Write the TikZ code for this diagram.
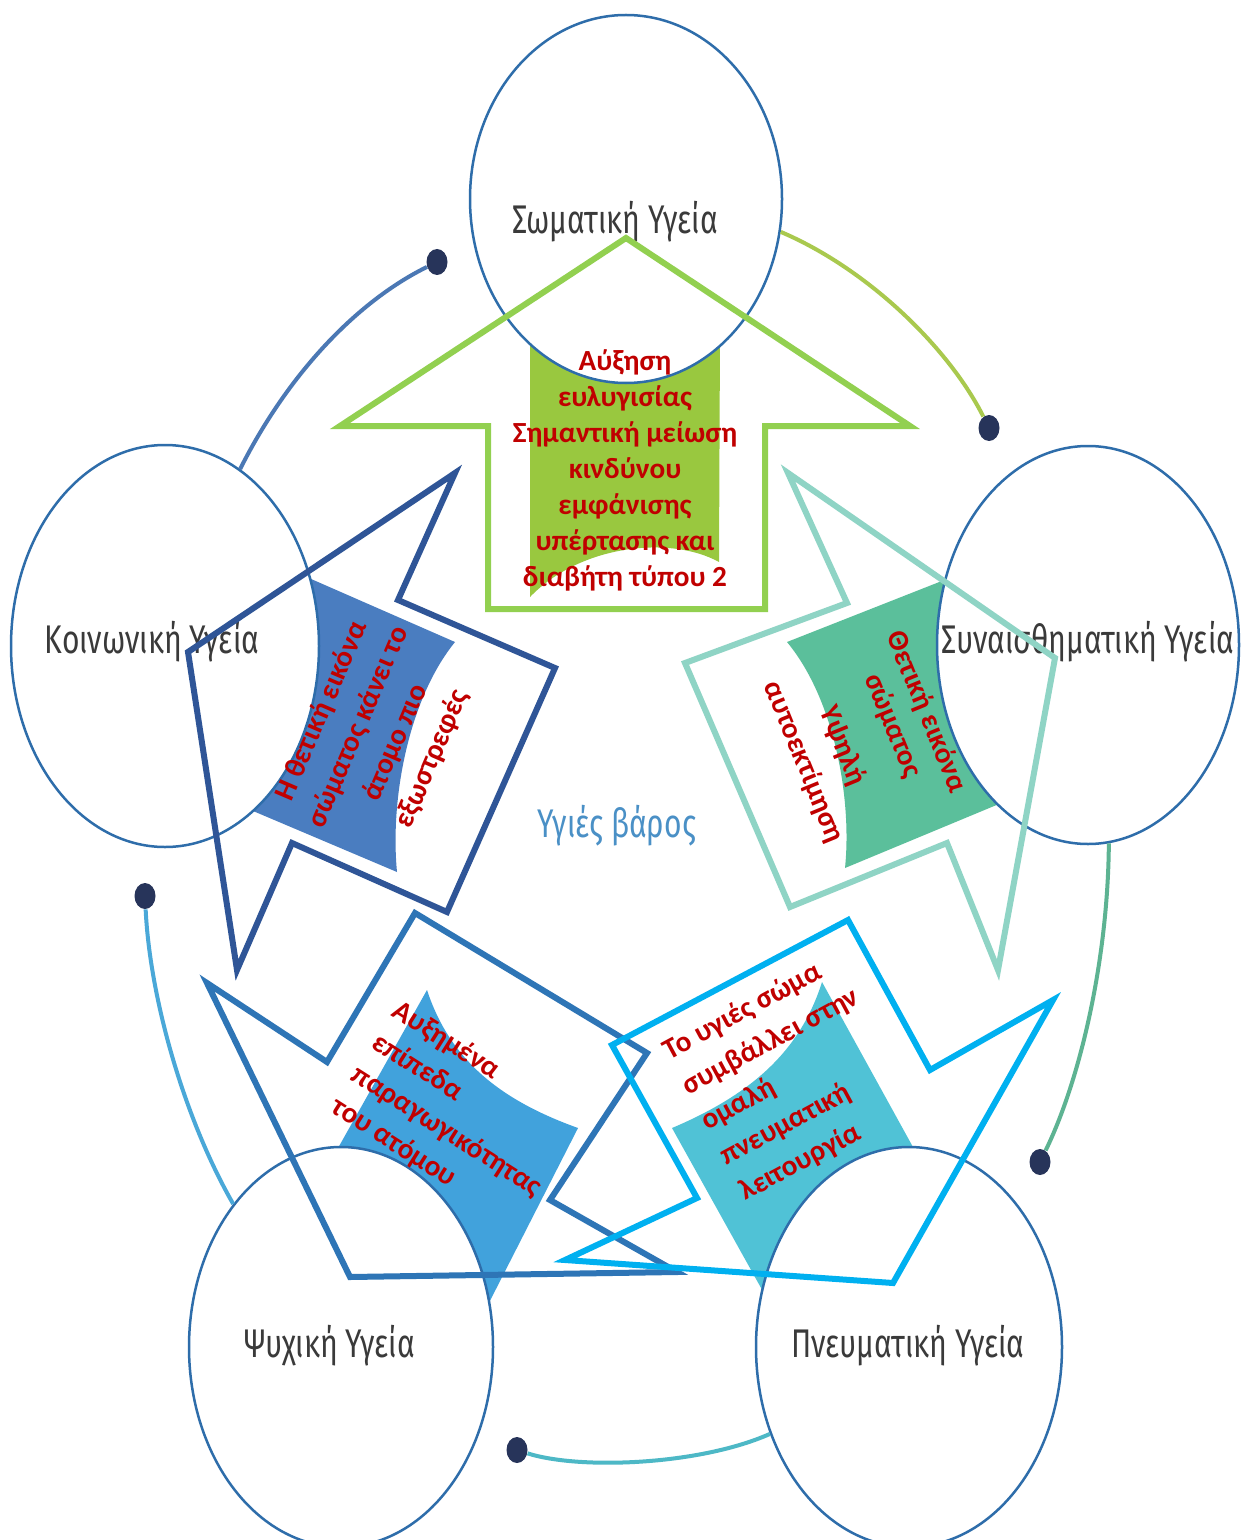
\documentclass[tikz,border=0pt]{standalone}
\usepackage{fontspec}
\setmainfont{Carlito}
\newfontfamily\lblfont{Fira Sans}
\usetikzlibrary{shapes.geometric}
\definecolor{circ}{HTML}{2E6DAA}
\definecolor{navy}{HTML}{27345A}
\definecolor{grnA}{HTML}{92D050}
\definecolor{dblueA}{HTML}{2F5597}
\definecolor{mblueA}{HTML}{2E75B6}
\definecolor{bblueA}{HTML}{00B0F0}
\definecolor{tealA}{HTML}{8FD4C5}
\definecolor{pgreen}{HTML}{99C83F}
\definecolor{pdblue}{HTML}{4A7DC0}
\definecolor{pteal}{HTML}{5BBF9B}
\definecolor{pmblue}{HTML}{41A2DC}
\definecolor{pcyan}{HTML}{50C2D6}
\definecolor{conA}{HTML}{4B78B4}
\definecolor{conB}{HTML}{A9C94E}
\definecolor{conC}{HTML}{5DB392}
\definecolor{conD}{HTML}{4DB8C6}
\definecolor{conE}{HTML}{4AA8D8}
\definecolor{lblgray}{HTML}{3A3A3A}
\definecolor{midblue}{HTML}{4A90C6}
\definecolor{redA}{HTML}{C00000}
\newcommand\lbl[1]{\scalebox{0.75}[1]{#1}}
\tikzset{
  circnode/.style={ellipse, draw=circ, line width=1.25pt, fill=white, inner sep=0pt},
  dotnode/.style={ellipse, fill=navy, inner sep=0pt, minimum width=10.5pt, minimum height=13pt},
  conn/.style={line width=2pt},
  lbltext/.style={text=lblgray, font=\lblfont\fontsize{20}{24}\selectfont, inner sep=0pt},
  arrowshape/.style={line width=3pt, line join=miter},
  redtxt/.style={text=redA, inner sep=0pt, font=\bfseries\fontsize{14.6}{18}\selectfont}
}
\begin{document}
\begin{tikzpicture}[x=0.5pt,y=-0.5pt]
\useasboundingbox (0,0) rectangle (1247,1540);
\fill[white] (0,0) rectangle (1247,1540);
% petals
\fill[pgreen] (530,330) -- (720,330) -- (719,562) .. controls (670,535) and (580,545) .. (530,597) -- cycle;
\fill[pdblue] (270,561) -- (455,642) .. controls (408,700) and (390,800) .. (397,872) -- (220,797) -- cycle;
\fill[pteal] (985,564) -- (787,642) .. controls (835,700) and (852,800) .. (845,868) -- (1035,789) -- cycle;
\fill[pmblue] (427,990) .. controls (450,1060) and (500,1100) .. (578,1128) -- (470,1340) -- (320,1180) -- cycle;
\fill[pcyan] (822,982) -- (935,1187) -- (790,1340) -- (672,1128) .. controls (750,1095) and (800,1052) .. (822,982) -- cycle;
% circles
\node[circnode, minimum width=156pt, minimum height=184pt] (som) at (626,199) {};
\node[circnode, minimum width=154pt, minimum height=201pt] (koi) at (165,646) {};
\node[circnode, minimum width=151pt, minimum height=199pt] (syn) at (1088,645) {};
\node[circnode, minimum width=152pt, minimum height=200pt] (psy) at (341,1347) {};
\node[circnode, minimum width=153pt, minimum height=200pt] (pne) at (909,1347) {};
% dots
\node[dotnode] (d1) at (437,262) {};
\node[dotnode] (d2) at (989,428) {};
\node[dotnode] (d3) at (1040,1162) {};
\node[dotnode] (d4) at (517,1450) {};
\node[dotnode] (d5) at (145,896) {};
% connectors
\draw[conn, conA] (koi.67) .. controls (290,370) and (360,300) .. (d1);
\draw[conn, conB] (som.-12) .. controls (870,270) and (950,350) .. (d2);
\draw[conn, conC] (syn.-84) .. controls (1108,960) and (1080,1080) .. (d3);
\draw[conn, conD] (pne.-148) .. controls (700,1465) and (580,1470) .. (d4);
\draw[conn, conE] (psy.127) .. controls (185,1120) and (150,1000) .. (d5);
% labels
\node[lbltext] (lsom) at (615,222) {\lbl{Σωματική Υγεία}};
\node[lbltext] (lkoi) at (152,642) {\lbl{Κοινωνική Υγεία}};
\node[lbltext] (lsyn) at (1088,642) {\lbl{Συναισθηματική Υγεία}};
\node[lbltext] (lpsy) at (330,1346) {\lbl{Ψυχική Υγεία}};
\node[lbltext] (lpne) at (908,1346) {\lbl{Πνευματική Υγεία}};
\node[lbltext, text=midblue] (lmid) at (617,826) {\lbl{Υγιές βάρος}};
% arrows
\draw[arrowshape, grnA] (626,238) -- (910,426) -- (765,426) -- (765,609) -- (488,609) -- (488,426) -- (340,426) -- cycle;
\draw[arrowshape, dblueA] (455,473) -- (188,652) -- (237,970) -- (292,843) -- (447,912) -- (555,668) -- (398,600) -- cycle;
\draw[arrowshape, tealA] (788,473) -- (1055,658) -- (998,970) -- (947,843) -- (790,907) -- (685,663) -- (847,603) -- cycle;
\draw[arrowshape, mblueA] (415,913) -- (647,1053) -- (550,1200) -- (677,1272) -- (350,1277) -- (207,983) -- (327,1062) -- cycle;
\draw[arrowshape, bblueA] (848,920) -- (930,1070) -- (1053,1000) -- (893,1283) -- (565,1260) -- (697,1198) -- (612,1045) -- cycle;
% red texts
\node[redtxt, align=center] (tgr) at (625,470) {Αύξηση\\ευλυγισίας\\Σημαντική μείωση\\κινδύνου\\εμφάνισης\\υπέρτασης και\\διαβήτη τύπου 2};
\node[redtxt, align=center, rotate=66.8, font=\bfseries\fontsize{14.6}{20}\selectfont] (tdb) at (377,735) {Η θετική εικόνα\\σώματος κάνει το\\άτομο πιο\\εξωστρεφές};
\node[redtxt, align=center, rotate=-67.8] (tte) at (865,737) {Θετική εικόνα\\σώματος\\[9pt]Υψηλή\\[3pt]αυτοεκτίμηση};
\node[redtxt, align=left, rotate=-32.4, font=\bfseries\fontsize{14.6}{19}\selectfont] (tmb) at (457,1115) {Αυξημένα\\επίπεδα\\παραγωγικότητας\\του ατόμου};
\node[redtxt, align=left, rotate=28.3, font=\bfseries\fontsize{14.6}{20}\selectfont] (tbb) at (790,1077) {Το υγιές σώμα\\συμβάλλει στην\\ομαλή\\πνευματική\\λειτουργία};
\end{tikzpicture}
\end{document}
